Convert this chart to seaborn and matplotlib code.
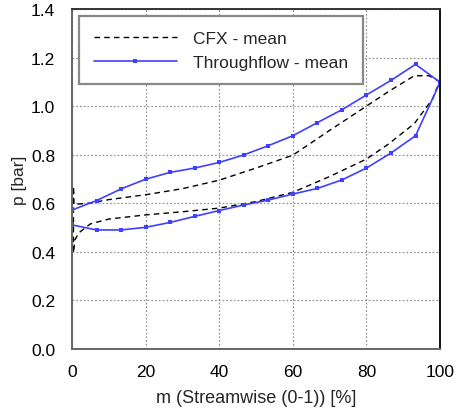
import numpy as np
import pandas as pd
import matplotlib
matplotlib.use("Agg")
import matplotlib.pyplot as plt
import seaborn as sns

# CFX - mean (closed loop, leading edge spike included)
cfx_x = [0.4, 0.4, 0.5, 5, 10, 20, 30, 40, 50, 60, 70, 80, 86, 93, 97, 100,
         99, 98, 93, 86, 80, 70, 60, 50, 40, 30, 20, 10, 5, 2, 0.8, 0.4]
cfx_p = [0.40, 0.67, 0.595, 0.601, 0.615, 0.635, 0.66, 0.695, 0.745, 0.798, 0.90, 1.00, 1.06, 1.125, 1.125, 1.10,
         1.07, 1.03, 0.928, 0.844, 0.782, 0.71, 0.645, 0.607, 0.58, 0.565, 0.552, 0.535, 0.515, 0.48, 0.45, 0.40]

# Throughflow - mean
tf_x = [0, 6.67, 13.33, 20, 26.67, 33.33, 40, 46.67, 53.33, 60, 66.67, 73.33, 80, 86.67, 93.33, 100]
tf_upper = [0.572, 0.611, 0.659, 0.699, 0.727, 0.745, 0.768, 0.799, 0.837, 0.878, 0.932, 0.985, 1.046, 1.106, 1.172, 1.098]
tf_lower = [0.511, 0.490, 0.490, 0.501, 0.521, 0.546, 0.570, 0.593, 0.613, 0.638, 0.661, 0.696, 0.745, 0.807, 0.878, 1.098]

x_ticks = [0, 20, 40, 60, 80, 100]
y_ticks = [0.0, 0.2, 0.4, 0.6, 0.8, 1.0, 1.2, 1.4]

sns.set_theme(style="white")
plt.rcParams['font.family'] = ['Liberation Sans', 'DejaVu Sans']

cfx_df = pd.DataFrame({"m": cfx_x, "p": cfx_p})
tf_loop_x = tf_x + tf_x[::-1][1:]
tf_loop_p = tf_upper + tf_lower[::-1][1:]
tf_df = pd.DataFrame({"m": tf_loop_x, "p": tf_loop_p})

fig = plt.figure(figsize=(4.57, 4.14), dpi=100)
ax = fig.add_axes([0.1575, 0.1546, 0.8055, 0.8214])

sns.lineplot(data=cfx_df, x="m", y="p", sort=False, estimator=None, ax=ax,
             color="black", linestyle=(0, (4, 3)), linewidth=1.0, label="CFX - mean")
sns.lineplot(data=tf_df, x="m", y="p", sort=False, estimator=None, ax=ax,
             color="#4040ff", linewidth=1.2, marker="s", markersize=3.2,
             markeredgewidth=0, label="Throughflow - mean")

ax.set_xlim(0, 100)
ax.set_ylim(0, 1.4)
ax.set_xticks(x_ticks)
ax.set_yticks(y_ticks)
ax.set_xticklabels([str(v) for v in x_ticks])
ax.set_yticklabels([f"{v:.1f}" for v in y_ticks])
ax.tick_params(labelsize=12.5, colors="black", length=3, direction="out", width=0.8)
ax.tick_params(axis="both", color="#555555")
ax.tick_params(axis="y", pad=9)
ax.tick_params(axis="x", pad=8)
ax.grid(True, color="#999999", linestyle=(0, (1.5, 1.5)), linewidth=0.9)
for side in ["left", "bottom", "top", "right"]:
    ax.spines[side].set_visible(True)
    ax.spines[side].set_linewidth(1.4)
ax.spines["left"].set_color("#666666")
ax.spines["bottom"].set_color("#666666")
ax.spines["top"].set_color("#333333")
ax.spines["right"].set_color("#111111")

ax.set_xlabel("m (Streamwise (0-1)) [%]", fontsize=13, labelpad=7)
ax.set_ylabel("p [bar]", fontsize=12.5, labelpad=3)

leg = ax.legend(loc="upper left", fontsize=12.5, frameon=True, fancybox=False,
                edgecolor="#888888", borderaxespad=0.4, handlelength=4.8,
                borderpad=0.85, labelspacing=0.5, handletextpad=0.9)
leg.get_frame().set_linewidth(1.6)
leg.get_frame().set_alpha(1)

fig.savefig("out.png", dpi=100)
